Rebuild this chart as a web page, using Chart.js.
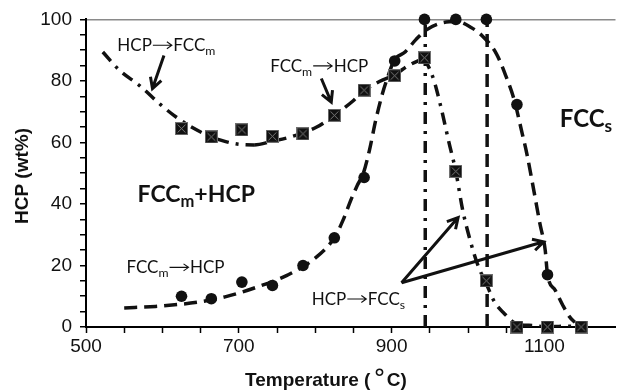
<!DOCTYPE html>
<html>
<head>
<meta charset="utf-8">
<script src="https://cdn.jsdelivr.net/npm/chart.js@4.4.0/dist/chart.umd.min.js"></script>
<style>
  html, body { margin: 0; padding: 0; background: #fff; }
  canvas { display: block; }
</style>
</head>
<body>
<canvas id="chart" width="623" height="392"></canvas>
<script>
// measured points (temperature in °C, HCP in wt%)
const temps = [625, 664, 704, 744, 784, 825, 864, 904, 943, 984, 1024, 1064, 1104, 1148];
const hcpCircle = [10, 9.2, 14.6, 13.5, 20, 29, 48.6, 86.5, 100, 100, 100, 72.3, 17, 0];
const hcpSquare = [64.5, 61.8, 64.1, 62, 62.8, 68.8, 77, 81.7, 87.5, 50.6, 15, 0, 0, 0];

// guide curve through the square points (FCCm side)
const fitMT = [522, 544, 570, 598, 615, 634, 664, 684, 700, 720, 744, 768, 802, 825, 849, 864, 884, 904, 922, 943];
const fitMV = [89.4, 83.4, 78.5, 72.2, 68.8, 65.6, 61.8, 60.2, 59.4, 59.2, 60.4, 61.8, 65, 68.8, 73.4, 76.8, 79.8, 82, 85, 87.5];

// guide curve through the circle points
const fitCT = [550, 591, 647, 682, 724, 763, 798, 825, 836, 847, 855, 863, 871, 879, 888, 895, 903, 918, 932, 945, 965, 985, 1004, 1018, 1037, 1050, 1060, 1071, 1077, 1086, 1094, 1101, 1104, 1114, 1125, 1133, 1140];
const fitCV = [6.2, 6.7, 8.1, 9.8, 13, 16.8, 22, 29, 34.5, 41.5, 46, 50, 57.5, 67, 75.9, 81.3, 86.5, 89.5, 93.5, 96.5, 98.8, 99.3, 97.4, 94.8, 88.9, 81.3, 74.2, 62.8, 56.3, 44.5, 33.7, 25, 17, 12, 6.6, 3.3, 1.5];

// guide curve for the falling square points (HCP -> FCCs)
const fitST = [943, 955, 965, 975, 984, 993, 1003, 1013, 1024, 1035, 1047, 1064, 1085, 1104, 1125, 1148];
const fitSV = [87.5, 80.5, 71, 60, 50.6, 38, 28, 20, 14, 8, 4.5, 1, 0.5, 0, 0.3, 0];

// vertical transition lines
const startT = [944, 944];
const finishT = [1025, 1025];
const lineV = [0, 100];

const xTicks = [500, 550, 600, 650, 700, 750, 800, 850, 900, 950, 1000, 1050, 1100, 1150];
const yTicks = [0, 5, 10, 15, 20, 25, 30, 35, 40, 45, 50, 55, 60, 65, 70, 75, 80, 85, 90, 95, 100];

const pts = (xs, ys) => xs.map((x, i) => ({ x: x, y: ys[i] }));

const ink = '#111';
const dashed = [13, 7];
const dashDot = [12, 7, 3, 7];

function crossedSquare(size) {
    const c = document.createElement('canvas');
    c.width = c.height = size;
    const g = c.getContext('2d');
    g.fillStyle = '#111';
    g.fillRect(0, 0, size, size);
    g.strokeStyle = '#707070';
    g.lineWidth = 1;
    g.strokeRect(0.5, 0.5, size - 1, size - 1);
    g.strokeStyle = '#858585';
    g.lineWidth = 0.9;
    g.beginPath();
    g.moveTo(2.5, 2.5); g.lineTo(size - 2.5, size - 2.5);
    g.moveTo(size - 2.5, 2.5); g.lineTo(2.5, size - 2.5);
    g.stroke();
    return c;
}

function curve(data, dash, extra) {
    return Object.assign({
        data: data,
        showLine: true,
        borderColor: ink,
        borderWidth: 3.5,
        borderDash: dash,
        pointRadius: 0,
        cubicInterpolationMode: 'monotone',
        order: 2
    }, extra || {});
}

// labels with subscripts and small text arrows
function drawRich(ctx, parts, x, y, size, weight) {
    let cx = x;
    for (const p of parts) {
        if (p.arrow) {
            const ay = y - size * 0.36;
            ctx.save();
            ctx.lineWidth = 1.1;
            ctx.beginPath();
            ctx.moveTo(cx + 1, ay);
            ctx.lineTo(cx + 20, ay);
            ctx.moveTo(cx + 15, ay - 3.5);
            ctx.lineTo(cx + 20, ay);
            ctx.lineTo(cx + 15, ay + 3.5);
            ctx.stroke();
            ctx.restore();
            cx += 21.5;
            continue;
        }
        const fs = p.sub ? size * 0.72 : size;
        ctx.font = weight + ' ' + fs + 'px Lato, "Open Sans", sans-serif';
        ctx.fillText(p.t, cx, p.sub ? y + size * 0.22 : y);
        cx += ctx.measureText(p.t).width;
    }
}

function drawArrow(ctx, x0, y0, x1, y1) {
    const a = Math.atan2(y1 - y0, x1 - x0);
    const head = 12, spread = 0.5;
    ctx.beginPath();
    ctx.moveTo(x0, y0);
    ctx.lineTo(x1, y1);
    ctx.moveTo(x1 - head * Math.cos(a - spread), y1 - head * Math.sin(a - spread));
    ctx.lineTo(x1, y1);
    ctx.lineTo(x1 - head * Math.cos(a + spread), y1 - head * Math.sin(a + spread));
    ctx.stroke();
}

const notes = [
    { parts: [{ t: 'HCP' }, { arrow: true }, { t: 'FCC' }, { t: 'm', sub: true }], x: 541, y: 89.6, size: 17, weight: 400 },
    { parts: [{ t: 'FCC' }, { t: 'm', sub: true }, { arrow: true }, { t: 'HCP' }], x: 741, y: 82.9, size: 17, weight: 400 },
    { parts: [{ t: 'FCC' }, { t: 'm', sub: true }, { t: '+HCP' }], x: 567.5, y: 40.7, size: 23, weight: 700 },
    { parts: [{ t: 'FCC' }, { t: 's', sub: true }], x: 1120, y: 65, size: 24, weight: 700 },
    { parts: [{ t: 'FCC' }, { t: 'm', sub: true }, { arrow: true }, { t: 'HCP' }], x: 553, y: 17.4, size: 17, weight: 400 },
    { parts: [{ t: 'HCP' }, { arrow: true }, { t: 'FCC' }, { t: 's', sub: true }], x: 795.5, y: 7.1, size: 17, weight: 400 }
];

const pointers = [
    [602, 88.3, 587, 77.5],
    [808, 80.8, 821, 73.1],
    [913, 14.4, 987, 35.6],
    [913, 14.4, 1099, 27.7]
];

const annotate = {
    id: 'annotate',
    afterDraw(chart) {
        const ctx = chart.ctx;
        const sx = chart.scales.x, sy = chart.scales.y;
        ctx.save();
        ctx.fillStyle = ink;
        ctx.strokeStyle = ink;
        ctx.textBaseline = 'alphabetic';
        ctx.textAlign = 'left';
        for (const n of notes) {
            drawRich(ctx, n.parts, sx.getPixelForValue(n.x), sy.getPixelForValue(n.y), n.size, n.weight);
        }
        ctx.lineWidth = 3;
        ctx.lineCap = 'butt';
        ctx.lineJoin = 'miter';
        for (const p of pointers) {
            drawArrow(ctx, sx.getPixelForValue(p[0]), sy.getPixelForValue(p[1]),
                sx.getPixelForValue(p[2]), sy.getPixelForValue(p[3]));
        }

        // axis titles
        ctx.font = 'bold 19px "Liberation Sans", Arial, sans-serif';
        ctx.save();
        ctx.translate(23, 176);
        ctx.rotate(-Math.PI / 2);
        ctx.textAlign = 'center';
        ctx.textBaseline = 'middle';
        ctx.fillText('HCP (wt%)', 0, 0);
        ctx.restore();

        const a = 'Temperature (', b = '°', c = 'C)';
        const bold = 'bold 19px "Liberation Sans", Arial, sans-serif';
        const deg = '25px "DejaVu Sans", sans-serif';
        ctx.font = bold;
        const wa = ctx.measureText(a).width, wc = ctx.measureText(c).width;
        ctx.font = deg;
        const wb = ctx.measureText(b).width + 4;
        const tx = 326 - (wa + wb + wc) / 2;
        const ty = 386;
        ctx.font = bold;
        ctx.fillText(a, tx, ty);
        ctx.font = deg;
        ctx.fillText(b, tx + wa + 3, ty + 1);
        ctx.font = bold;
        ctx.fillText(c, tx + wa + wb, ty);
        ctx.restore();
    }
};

new Chart(document.getElementById('chart'), {
    type: 'scatter',
    data: {
        datasets: [
            {
                data: pts(temps, hcpSquare),
                pointStyle: crossedSquare(13),
                pointRadius: 6.5,
                clip: false,
                order: 0
            },
            {
                data: pts(temps, hcpCircle),
                pointStyle: 'circle',
                pointRadius: 5.8,
                backgroundColor: ink,
                borderWidth: 0,
                clip: false,
                order: 1
            },
            curve(pts(fitMT, fitMV), dashed, {
                segment: {
                    borderDash: ctx => ctx.p0.parsed.x < 715 ? dashDot : dashed
                }
            }),
            curve(pts(fitCT, fitCV), dashed),
            curve(pts(fitST, fitSV), dashDot),
            curve(pts(startT, lineV), dashDot, { cubicInterpolationMode: 'default', tension: 0 }),
            curve(pts(finishT, lineV), dashed, { cubicInterpolationMode: 'default', tension: 0 })
        ]
    },
    options: {
        responsive: false,
        animation: false,
        devicePixelRatio: 1,
        layout: { padding: { top: 19, right: 0, bottom: 0, left: 0 } },
        plugins: {
            legend: { display: false },
            tooltip: { enabled: false }
        },
        scales: {
            x: {
                type: 'linear',
                min: 500,
                max: 1193,
                afterBuildTicks: s => { s.ticks = xTicks.map(v => ({ value: v })); },
                afterFit: s => { s.height = 65; },
                border: { color: '#000', width: 2 },
                grid: { drawOnChartArea: false, tickColor: '#000', tickLength: 6, tickWidth: 1.5 },
                ticks: {
                    autoSkip: false,
                    maxRotation: 0,
                    padding: 2,
                    color: '#111',
                    font: { family: '"Liberation Sans", Arial, sans-serif', size: 19 },
                    callback: v => (v % 200 === 100 ? String(v) : '')
                }
            },
            y: {
                min: 0,
                max: 100,
                afterBuildTicks: s => { s.ticks = yTicks.map(v => ({ value: v })); },
                afterFit: s => { s.width = 86; },
                border: { color: '#000', width: 2 },
                grid: {
                    color: ctx => (ctx.tick && ctx.tick.value === 100 ? '#8a8a8a' : 'rgba(0,0,0,0)'),
                    lineWidth: 1.5,
                    tickColor: '#000',
                    tickLength: 6,
                    tickWidth: 1.5
                },
                ticks: {
                    autoSkip: false,
                    padding: 8,
                    color: '#111',
                    font: { family: '"Liberation Sans", Arial, sans-serif', size: 19 },
                    callback: v => (v % 20 === 0 ? String(v) : '')
                }
            }
        }
    },
    plugins: [annotate]
});
</script>
</body>
</html>
